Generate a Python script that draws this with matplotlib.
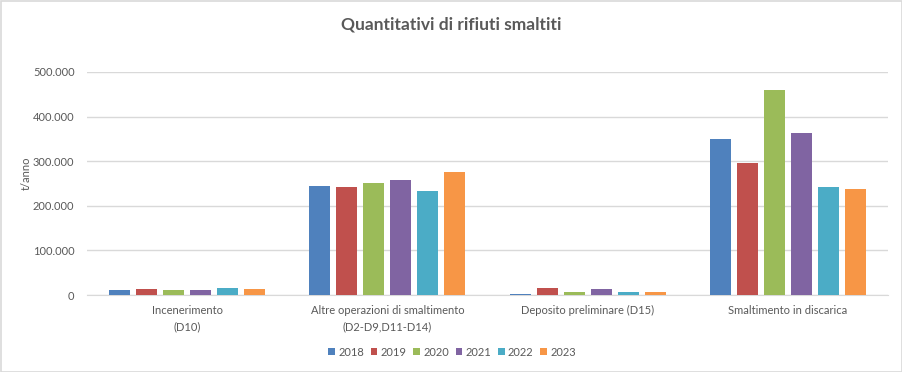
import matplotlib
matplotlib.use("Agg")
import matplotlib.pyplot as plt
import numpy as np
from matplotlib.patches import Rectangle, Patch
from matplotlib.ticker import FuncFormatter

plt.rcParams['font.family'] = ['Lato', 'DejaVu Sans']

categories = ["Incenerimento\n(D10)", "Altre operazioni di smaltimento\n(D2-D9,D11-D14)",
              "Deposito preliminare (D15)", "Smaltimento in discarica"]
years = ["2018", "2019", "2020", "2021", "2022", "2023"]
v2018 = [12000, 245000, 2000, 350500]
v2019 = [14000, 243000, 16500, 296500]
v2020 = [12000, 252000, 7500, 460000]
v2021 = [12000, 258500, 14000, 364000]
v2022 = [16500, 234000, 7500, 243000]
v2023 = [14000, 276500, 7500, 238000]
series = [v2018, v2019, v2020, v2021, v2022, v2023]
colors = ["#4F81BD", "#C0504D", "#9BBB59", "#8064A2", "#4BACC6", "#F79646"]

W, H = 902, 372
fig = plt.figure(figsize=(W/100, H/100), dpi=100)
ax = fig.add_axes([87/W, 1-295/H, (888-87)/W, (295-72)/H])

x = np.arange(len(categories))
pitch = 0.135
bw = 0.105
for i, (vals, c) in enumerate(zip(series, colors)):
    ax.bar(x + (i - 2.5) * pitch, vals, width=bw, color=c, zorder=3, label=years[i])

ax.set_xlim(-0.5, 3.5)
ax.set_ylim(0, 500000)
ax.set_yticks(np.arange(0, 500001, 100000))
ax.yaxis.set_major_formatter(FuncFormatter(lambda v, p: "0" if v == 0 else f"{int(v):,}".replace(",", ".")))
ax.grid(axis='y', color='#D9D9D9', linewidth=1, zorder=0)
for s in ['top', 'right', 'left']:
    ax.spines[s].set_visible(False)
ax.spines['bottom'].set_color('#D9D9D9')
ax.tick_params(axis='y', length=0, labelsize=8, labelcolor='#595959', pad=9)
ax.tick_params(axis='x', length=0, labelsize=8, labelcolor='#595959', pad=7)
ax.set_xticks(x)
ax.set_xticklabels(categories, linespacing=1.6)
ax.set_ylabel("t/anno", fontsize=8, color='#595959', va='center')
ax.yaxis.set_label_coords((26-87)/801, (295-173)/223)

fig.text(451/W, 1-25/H, "Quantitativi di rifiuti smaltiti", ha='center', va='center',
         fontsize=12.5, fontweight='bold', color='#595959')

handles = [Patch(facecolor=c, edgecolor='none') for c in colors]
fig.legend(handles, years, loc='center', bbox_to_anchor=(452/W, 1-352/H), ncol=6,
           frameon=False, fontsize=8, handlelength=0.6, handleheight=0.6,
           handletextpad=0.3, columnspacing=0.6, labelcolor='#595959')

fig.patches.append(Rectangle((0.5/W, 0.5/H), 1-1/W, 1-1/H, transform=fig.transFigure,
                             fill=False, edgecolor='#D9D9D9', linewidth=1.2))

fig.savefig("out.png", dpi=100)
